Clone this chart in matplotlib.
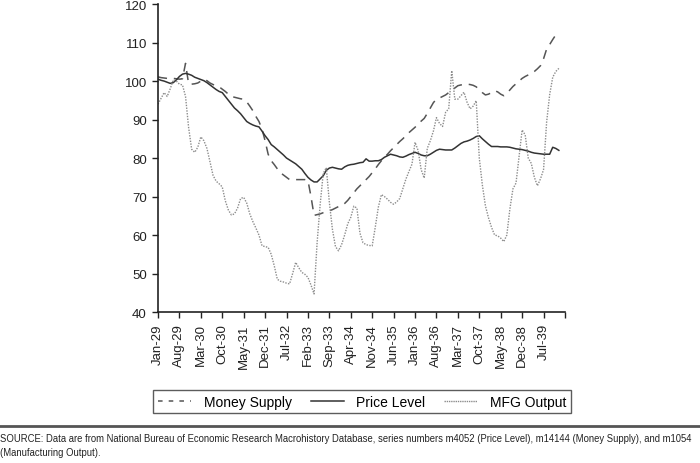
import numpy as np
import matplotlib
matplotlib.use("Agg")
import matplotlib.pyplot as plt
from matplotlib.lines import Line2D

# monthly series, Jan-1929 .. Dec-1939
price_level = [
    100.5, 100.2, 100.0, 99.7, 99.4, 99.6, 100.3, 101.2, 101.8, 102.0, 101.8, 101.5,
    101.0, 100.7, 100.4, 100.1, 99.6, 99.0, 98.4, 97.8, 97.3, 97.0, 96.0, 95.0,
    94.0, 93.0, 92.3, 91.5, 90.5, 89.5, 89.0, 88.6, 88.3, 88.1, 87.0, 85.8,
    84.8, 83.5, 82.9, 82.2, 81.5, 80.8, 80.0, 79.5, 79.0, 78.5, 77.8, 77.1,
    76.0, 75.0, 74.3, 73.8, 73.8, 74.6, 75.4, 76.8, 77.4, 77.6, 77.4, 77.2,
    77.1, 77.7, 78.1, 78.3, 78.4, 78.6, 78.8, 78.9, 79.8, 79.2, 79.2, 79.3,
    79.3, 79.6, 80.2, 80.6, 81.0, 80.8, 80.6, 80.3, 80.2, 80.5, 80.9, 81.2,
    81.5, 81.2, 80.8, 80.6, 80.6, 81.0, 81.5, 82.0, 82.3, 82.2, 82.1, 82.1,
    82.1, 82.6, 83.2, 83.8, 84.2, 84.4, 84.7, 85.1, 85.6, 85.8, 85.0, 84.3,
    83.6, 83.0, 83.0, 83.0, 82.9, 82.9, 82.9, 82.8, 82.6, 82.4, 82.3, 82.2,
    82.0, 81.8, 81.5, 81.3, 81.2, 81.1, 81.0, 81.0, 81.0, 82.8, 82.5, 82.0,
]
money_supply = [
    101.1, 100.9, 100.8, 100.7, 100.8, 100.7, 100.6, 100.5, 100.6, 104.6, 99.3, 99.2,
    99.3, 99.5, 100.0, 100.5, 100.1, 99.5, 99.1, 98.8, 98.5, 97.9, 97.3, 96.6,
    96.0, 95.8, 95.6, 95.4, 95.3, 94.6, 93.5, 92.3, 90.8, 89.5, 87.5, 84.5,
    81.0, 79.3, 78.3, 77.2, 76.2, 75.6, 75.0, 74.4, 74.4, 74.4, 74.4, 74.4,
    74.4, 74.2, 70.0, 65.1, 65.3, 65.5, 65.8, 66.0, 66.3, 66.6, 67.0, 67.4,
    67.6, 68.2, 69.0, 70.0, 71.0, 72.0, 72.8, 73.6, 74.4, 75.2, 76.2, 77.2,
    78.3, 79.3, 80.2, 81.0, 81.9, 82.7, 83.5, 84.3, 85.0, 85.8, 86.6, 87.3,
    88.0, 88.8, 89.6, 90.3, 91.6, 93.0, 94.4, 95.3, 95.6, 96.0, 96.4, 97.0,
    97.5, 98.2, 98.8, 99.0, 99.1, 99.2, 99.1, 98.9, 98.5, 97.8, 97.0, 96.4,
    96.6, 97.0, 97.5, 97.2, 96.6, 96.2, 96.8, 97.7, 98.6, 99.3, 100.0, 100.7,
    101.2, 101.6, 102.0, 102.5, 103.2, 104.0, 105.8, 108.3, 109.5, 110.8, 112.0, 112.8,
]
mfg_output = [
    94.0, 95.5, 97.0, 96.0, 98.0, 100.3, 100.0, 99.2, 99.0, 96.0, 88.0, 82.3,
    81.5, 82.8, 85.5, 84.5, 82.5, 79.0, 75.5, 74.0, 73.3, 72.5, 68.9, 66.5,
    65.2, 65.5, 67.0, 69.5, 69.8, 68.3, 65.5, 63.5, 61.8, 60.0, 57.2, 57.0,
    56.8, 55.0, 52.0, 48.5, 48.0, 47.8, 47.5, 47.3, 50.0, 52.9, 51.5, 50.3,
    49.8, 49.0, 47.0, 44.7, 58.0, 68.0, 76.0, 77.5, 68.5, 61.5, 57.0, 55.9,
    57.5, 60.0, 62.9, 64.6, 67.5, 67.0, 60.5, 58.0, 57.5, 57.3, 57.2, 62.0,
    67.2, 70.5, 70.0, 69.3, 68.5, 68.0, 68.6, 69.5, 72.0, 74.5, 76.5, 78.4,
    84.1, 82.0, 77.0, 74.8, 82.5, 84.5, 87.0, 90.5, 89.0, 88.2, 91.9, 92.8,
    102.7, 95.3, 95.3, 96.2, 97.1, 94.5, 92.8, 93.5, 94.9, 80.0, 73.0, 67.6,
    64.5, 62.0, 60.0, 59.8, 59.2, 58.3, 60.0, 66.8, 72.0, 73.5, 80.5, 87.3,
    86.0, 80.0, 78.6, 75.0, 72.8, 74.6, 77.0, 89.3, 96.5, 101.0, 102.5, 103.3,
]
tick_labels = ["Jan-29", "Aug-29", "Mar-30", "Oct-30", "May-31", "Dec-31", "Jul-32",
               "Feb-33", "Sep-33", "Apr-34", "Nov-34", "Jun-35", "Jan-36", "Aug-36",
               "Mar-37", "Oct-37", "May-38", "Dec-38", "Jul-39"]
source = ("SOURCE: Data are from National Bureau of Economic Research Macrohistory Database, "
          "series numbers m4052 (Price Level), m14144 (Money Supply), and m1054\n"
          "(Manufacturing Output).")

plt.rcParams['font.family'] = ['Liberation Sans', 'DejaVu Sans']

fig = plt.figure(figsize=(7, 4.64), dpi=100)
ax = fig.add_axes([0.2257, 0.3254, 0.5814, 0.6636])

x = np.arange(len(price_level))
ax.plot(x, money_supply, color='#555555', lw=1.1, dashes=(6, 4.5))
ax.plot(x, price_level, color='#333333', lw=1.1)
ax.plot(x, mfg_output, color='#8c8c8c', lw=1.0, dashes=(1, 1))

ax.set_xlim(0, 133)
ax.set_ylim(40, 120)
ax.set_yticks(np.arange(40, 121, 10))
ax.set_xticks(np.arange(0, 134, 7))
ax.set_xticklabels(tick_labels + [""], rotation=90)
for s in ['top', 'right']:
    ax.spines[s].set_visible(False)
for s in ['left', 'bottom']:
    ax.spines[s].set_color('#222222')
    ax.spines[s].set_linewidth(1.2)
ax.tick_params(direction='out', length=4, width=1, color='#222222',
               labelsize=9.5, labelcolor='#222222', pad=4)

handles = [
    Line2D([], [], color='#555555', lw=1.1, dashes=(3, 4)),
    Line2D([], [], color='#333333', lw=1.1),
    Line2D([], [], color='#8c8c8c', lw=1.0, dashes=(1, 0.6)),
]
leg = fig.legend(handles, ["Money Supply", "Price Level", "MFG Output"],
                 loc='center', bbox_to_anchor=(0.219, 0.1034, 0.597, 0.058),
                 mode='expand', ncol=3, fontsize=10, frameon=True, fancybox=False,
                 handlelength=2.4, handletextpad=0.9, borderaxespad=0, borderpad=0.35)
leg.get_frame().set_edgecolor('#333333')
leg.get_frame().set_linewidth(1.0)

fig.add_artist(Line2D([0, 1], [1 - 427 / 464, 1 - 427 / 464], transform=fig.transFigure,
                      color='#555555', lw=2))
fig.text(0.0, 1 - 434 / 464, source, ha='left', va='top', fontsize=6.85,
         color='#222222', linespacing=1.5)

fig.savefig('out.png', dpi=100)
